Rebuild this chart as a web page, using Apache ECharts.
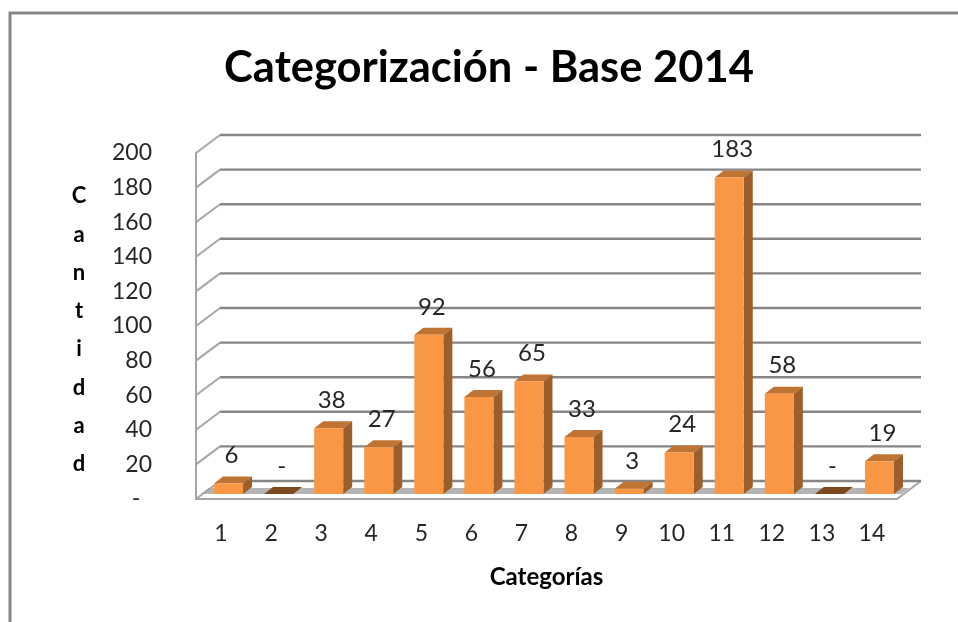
<!DOCTYPE html>
<html>
<head>
<meta charset="utf-8">
<style>
  html, body { margin: 0; padding: 0; background: #fff; }
  #chart { width: 958px; height: 622px; }
</style>
<script src="https://cdn.jsdelivr.net/npm/echarts@6/dist/echarts.min.js"></script>
</head>
<body>
<div id="chart"></div>
<script>
const categories = ['1', '2', '3', '4', '5', '6', '7', '8', '9', '10', '11', '12', '13', '14'];
const cantidad = [6, 0, 38, 27, 92, 56, 65, 33, 3, 24, 183, 58, 0, 19];
const yTicks = [0, 20, 40, 60, 80, 100, 120, 140, 160, 180, 200];

// fake 3d depth of the excel chart
const DEPTH_X = 24;
const DEPTH_Y = 18;
const BAR_SHIFT_X = 7.5;
const BAR_SHIFT_Y = 5;
const BAR_DEPTH_X = 9;
const BAR_DEPTH_Y = 7;
const FONT = 'Lato';

const chart = echarts.init(document.getElementById('chart'));

function dash(v) {
  return v === 0 ? '-' : String(v);
}

function renderWall(params, api) {
  const v = api.value(1);
  const y = api.coord([0, v])[1];
  const cs = params.coordSys;
  const children = [];
  if (v === 0) {
    // floor
    children.push({
      type: 'polygon',
      shape: { points: [
        [cs.x + BAR_SHIFT_X - 3, y - BAR_SHIFT_Y],
        [cs.x + cs.width + BAR_SHIFT_X - 3, y - BAR_SHIFT_Y],
        [cs.x + cs.width + BAR_SHIFT_X + 5, y - BAR_SHIFT_Y - BAR_DEPTH_Y + 1],
        [cs.x + BAR_SHIFT_X + 5, y - BAR_SHIFT_Y - BAR_DEPTH_Y + 1]
      ] },
      style: { fill: '#b4b4b4' }
    });
    children.push({
      type: 'line',
      shape: { x1: cs.x + cs.width, y1: y, x2: cs.x + cs.width + DEPTH_X, y2: y - DEPTH_Y },
      style: { stroke: '#a6a6a6', lineWidth: 2 }
    });
  }
  children.push({
    type: 'line',
    shape: { x1: cs.x, y1: y, x2: cs.x + DEPTH_X, y2: y - DEPTH_Y },
    style: { stroke: '#a6a6a6', lineWidth: 2 }
  });
  children.push({
    type: 'line',
    shape: { x1: cs.x + DEPTH_X, y1: y - DEPTH_Y, x2: cs.x + cs.width + DEPTH_X, y2: y - DEPTH_Y },
    style: { stroke: '#868686', lineWidth: 2.4 }
  });
  return { type: 'group', children };
}

function renderBar(params, api) {
  const v = api.value(1);
  const top = api.coord([api.value(0), v]);
  const base = api.coord([api.value(0), 0]);
  const w = api.size([1, 0])[0] * 0.58;
  const x0 = top[0] - w / 2 + BAR_SHIFT_X;
  const x1 = x0 + w;
  const yTop = top[1] - BAR_SHIFT_Y;
  const yBase = base[1] - BAR_SHIFT_Y;
  const children = [];
  // tope
  children.push({
    type: 'polygon',
    shape: { points: [[x0, yTop], [x1, yTop], [x1 + BAR_DEPTH_X, yTop - BAR_DEPTH_Y], [x0 + BAR_DEPTH_X, yTop - BAR_DEPTH_Y]] },
    style: { fill: v === 0 ? '#7d4a20' : '#bf7433' }
  });
  if (v > 0) {
    children.push({
      type: 'polygon',
      shape: { points: [[x1, yTop], [x1 + BAR_DEPTH_X, yTop - BAR_DEPTH_Y], [x1 + BAR_DEPTH_X, yBase - BAR_DEPTH_Y], [x1, yBase]] },
      style: { fill: '#9c5f2b' }
    });
    children.push({
      type: 'rect',
      shape: { x: x0, y: yTop, width: w, height: yBase - yTop },
      style: { fill: '#f99745' }
    });
  }
  children.push({
    type: 'text',
    style: {
      text: dash(v),
      x: top[0] + BAR_SHIFT_X + 3,
      y: yTop - 28,
      align: 'center',
      verticalAlign: 'middle',
      font: '24px ' + FONT,
      fill: '#262626'
    }
  });
  return { type: 'group', children };
}

chart.setOption({
  animation: false,
  backgroundColor: '#fff',
  title: {
    text: 'Categorización - Base 2014',
    left: 484,
    top: 41,
    textAlign: 'center',
    textStyle: { fontFamily: FONT, fontWeight: 'bold', fontSize: 43.5, color: '#000' }
  },
  graphic: [{
    type: 'rect',
    shape: { x: 10, y: 13, width: 1000, height: 700 },
    style: { fill: 'none', stroke: '#868686', lineWidth: 3 },
    silent: true
  }, {
    // titulo vertical del eje y
    type: 'text',
    x: 79,
    y: 177,
    style: {
      text: 'C\na\nn\nt\ni\nd\na\nd',
      align: 'center',
      font: 'bold 22px ' + FONT,
      lineHeight: 38.3,
      fill: '#000'
    },
    silent: true
  }],
  grid: { left: 196, right: 61, top: 153, bottom: 123 },
  xAxis: {
    type: 'category',
    data: categories,
    name: 'Categorías',
    nameLocation: 'middle',
    nameGap: 66,
    nameTextStyle: { fontFamily: FONT, fontWeight: 'bold', fontSize: 24, color: '#000' },
    axisTick: { show: false },
    axisLine: { lineStyle: { color: '#a6a6a6', width: 2 } },
    axisLabel: { margin: 23, interval: 0, fontFamily: FONT, fontSize: 23, color: '#262626' }
  },
  yAxis: {
    type: 'value',
    min: 0,
    max: 200,
    interval: 20,
    splitLine: { show: false },
    axisTick: { show: false },
    axisLine: { show: true, lineStyle: { color: '#a6a6a6', width: 2 } },
    axisLabel: {
      margin: 44,
      padding: [2, 0, 0, 0],
      fontFamily: FONT,
      fontSize: 23,
      color: '#262626',
      formatter: (v) => (v === 0 ? '-  ' : String(v))
    }
  },
  series: [
    {
      type: 'custom',
      renderItem: renderWall,
      clip: false,
      silent: true,
      z: 1,
      encode: { x: 0, y: 1 },
      data: yTicks.map((v) => [0, v])
    },
    {
      type: 'custom',
      renderItem: renderBar,
      clip: false,
      z: 3,
      encode: { x: 0, y: 1 },
      data: cantidad.map((v, i) => [i, v])
    }
  ]
});
</script>
</body>
</html>
